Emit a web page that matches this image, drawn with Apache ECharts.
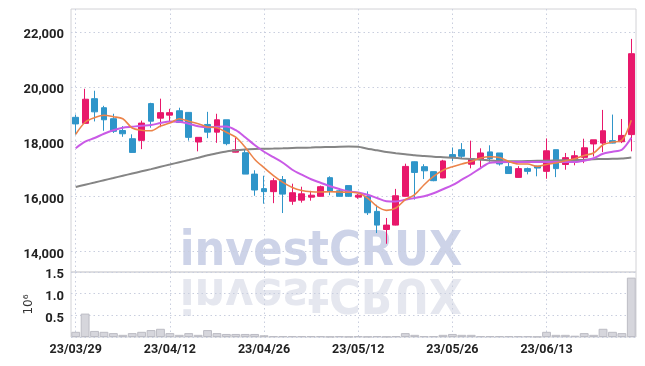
<!DOCTYPE html>
<html>
<head>
<meta charset="utf-8">
<script src="https://cdn.jsdelivr.net/npm/echarts@6/dist/echarts.min.js"></script>
<style>
html,body{margin:0;padding:0;background:#fff;}
#chart{width:645px;height:366px;}
</style>
</head>
<body>
<div id="chart"></div>
<script>
var dates = ['23/03/29','23/03/30','23/03/31','23/04/03','23/04/04','23/04/05','23/04/06','23/04/07','23/04/10','23/04/11',
'23/04/12','23/04/13','23/04/14','23/04/17','23/04/18','23/04/19','23/04/20','23/04/21','23/04/24','23/04/25',
'23/04/26','23/04/27','23/04/28','23/05/02','23/05/03','23/05/04','23/05/08','23/05/09','23/05/10','23/05/11',
'23/05/12','23/05/15','23/05/16','23/05/17','23/05/18','23/05/19','23/05/22','23/05/23','23/05/24','23/05/25',
'23/05/26','23/05/30','23/05/31','23/06/01','23/06/02','23/06/05','23/06/07','23/06/08','23/06/09','23/06/12',
'23/06/13','23/06/14','23/06/15','23/06/16','23/06/19','23/06/20','23/06/21','23/06/22','23/06/23','23/06/26'];

var opens  = [18890,18670,19570,19240,18840,18410,18110,18050,19390,18860,18970,19130,19070,17990,18630,18350,18800,17620,17600,16820,
16290,16180,16620,15830,15870,15980,16010,16690,16210,16400,15980,16010,15460,14800,14960,16010,17270,17090,16910,16680,
17530,17710,17180,17360,17630,17590,17090,16700,17020,17110,16920,17710,17170,17270,17430,17920,17950,18040,18000,18260];
var closes = [18650,19550,19090,18800,18380,18290,17610,18680,18750,19060,19060,18700,18160,18160,18350,18800,17930,17710,16820,16240,
16180,16580,16090,16140,16100,16050,16360,16200,16010,16010,16050,15410,14960,14960,16030,17100,16880,16940,16580,17300,
17430,17470,17380,17590,17390,17190,16840,17020,16920,17040,17670,17020,17420,17490,17780,18070,18400,17950,18230,21210];
var lows   = [18260,18660,18740,18400,18320,18180,17600,17730,18510,18530,18750,18690,18040,17650,18130,17960,17870,17610,16820,16030,
15740,15760,15400,15700,15780,15850,16000,16050,16000,15990,15920,15330,14670,14280,14950,16000,15890,16640,16560,16670,
17290,17410,17030,17070,17270,17130,16830,16690,16810,16740,16650,16710,16980,17140,17220,17460,17620,17940,17950,17650];
var highs  = [18990,19930,19860,19310,19020,18570,18270,18770,19420,19570,19200,19240,19080,18160,19090,19020,18800,18140,17740,16960,
16760,16670,16750,16470,16360,16210,16400,16740,16270,16400,16090,16190,15700,15220,16280,17200,17280,17180,16910,17340,
17790,17950,18040,17760,17870,17590,17240,17110,17060,17120,18120,17710,17590,17670,18110,18070,19160,18990,18830,21750];

var maShort = [18274,18711,18875,18966,18912,18839,18500,18420,18401,18573,18682,18839,18748,18657,18540,18511,18347,18164,17800,17362,
17052,16760,16516,16334,16225,16177,16166,16177,16166,16159,16130,15947,15641,15496,15583,15886,16068,16432,16735,16961,
17089,17187,17282,17406,17453,17428,17282,17187,17187,17100,17173,17224,17308,17380,17501,17588,17891,17989,18048,18784];
var maMid = [17763,18000,18135,18292,18420,18511,18547,18584,18609,18682,18740,18729,18657,18566,18529,18547,18558,18420,18164,17880,
17636,17435,17235,16979,16797,16633,16505,16378,16275,16188,16152,16068,15948,15831,15824,15886,15948,16013,16123,16268,
16414,16615,16815,17041,17235,17253,17257,17257,17257,17257,17257,17257,17257,17257,17308,17399,17563,17636,17709,18146];
var maLong = [16349,16432,16513,16596,16677,16760,16841,16921,17001,17089,17169,17253,17333,17417,17508,17581,17647,17683,17716,17734,
17745,17752,17760,17771,17781,17789,17800,17807,17818,17825,17818,17745,17690,17628,17581,17544,17508,17483,17453,17435,
17417,17391,17370,17344,17319,17297,17290,17290,17297,17308,17308,17319,17326,17333,17344,17362,17370,17380,17391,17428];

var volumes = [0.12,0.54,0.14,0.12,0.09,0.05,0.09,0.12,0.16,0.19,0.09,0.05,0.09,0.05,0.16,0.09,0.07,0.07,0.07,0.07,
0.04,0.02,0.02,0.02,0.02,0.02,0.02,0.01,0.02,0.01,0.02,0.01,0.02,0.01,0.02,0.09,0.05,0.02,0.02,0.05,
0.07,0.05,0.05,0.02,0.02,0.02,0.02,0.02,0.02,0.01,0.12,0.05,0.05,0.03,0.09,0.05,0.19,0.12,0.09,1.37];

var priceTicks = [14000,16000,18000,20000,22000];

var candles = dates.map(function(d,i){ return [opens[i], closes[i], lows[i], highs[i]]; });

var LFONT = 'Roboto, "Liberation Sans", sans-serif';
var WFONT = '"DejaVu Sans Condensed", "DejaVu Sans", sans-serif';
var gridLine = {show:true, lineStyle:{color:'#c9cede', type:[1.5,3], width:1}};

var chart = echarts.init(document.getElementById('chart'), null, {renderer:'canvas'});
chart.setOption({
  animation:false,
  backgroundColor:'#ffffff',
  graphic:[
    {type:'text', z:0, x:321, y:253, style:{text:'investCRUX', font:'bold 48px '+WFONT, fill:'#cdd3e8', align:'center', verticalAlign:'middle'}},
    {type:'text', z:0, x:321, y:291, scaleY:-1, style:{text:'investCRUX', font:'bold 48px '+WFONT, fill:'#e5e7ef', align:'center', verticalAlign:'middle'}}
  ],
  grid:[
    {left:71, right:9, top:9, height:263, show:true, borderColor:'#d2d2d6', borderWidth:1, backgroundColor:'transparent'},
    {left:71, right:9, top:272, height:65, show:true, borderColor:'#d2d2d6', borderWidth:1, backgroundColor:'transparent'}
  ],
  xAxis:[
    {type:'category', gridIndex:0, data:dates, boundaryGap:true,
     axisLine:{show:false}, axisTick:{show:false}, axisLabel:{show:false},
     splitLine:Object.assign({interval:9, alignWithLabel:true}, gridLine)},
    {type:'category', gridIndex:1, data:dates, boundaryGap:true,
     axisLine:{show:false}, axisTick:{show:false},
     axisLabel:{show:true, interval:9, margin:6, fontFamily:LFONT, fontWeight:'bold', fontSize:12.5, color:'#222'},
     splitLine:Object.assign({interval:9, alignWithLabel:true}, gridLine)}
  ],
  yAxis:[
    {type:'value', gridIndex:0, min:13250, max:22840, scale:true,
     axisLine:{show:false}, axisTick:{show:false, customValues:priceTicks},
     axisLabel:{customValues:priceTicks, margin:7, verticalAlign:'top', lineHeight:6, fontFamily:LFONT, fontWeight:'bold', fontSize:13, color:'#222',
       formatter:function(v){ return v.toLocaleString('en-US'); }},
     splitLine:gridLine},
    {type:'value', gridIndex:1, min:0, max:1.5, interval:0.5,
     name:'10⁶', nameLocation:'middle', nameGap:33, nameRotate:90,
     nameTextStyle:{fontFamily:'"DejaVu Sans", sans-serif', fontSize:12, color:'#333'},
     axisLine:{show:false}, axisTick:{show:false},
     axisLabel:{margin:7, verticalAlign:'top', lineHeight:6, fontFamily:LFONT, fontWeight:'bold', fontSize:13, color:'#222',
       formatter:function(v){ return v === 0 ? '' : v.toFixed(1); }},
     splitLine:gridLine}
  ],
  series:[
    {type:'candlestick', xAxisIndex:0, yAxisIndex:0, data:candles, barWidth:'68%', z:3,
     itemStyle:{color:'#e8186b', color0:'#2f95c9', borderColor:'#e8186b', borderColor0:'#2f95c9', borderWidth:1}},
    {type:'line', xAxisIndex:0, yAxisIndex:0, data:maLong, showSymbol:false, smooth:0.2, z:4,
     lineStyle:{color:'#858585', width:2}},
    {type:'line', xAxisIndex:0, yAxisIndex:0, data:maMid, showSymbol:false, smooth:0.3, z:4,
     lineStyle:{color:'#c95ae6', width:2}},
    {type:'line', xAxisIndex:0, yAxisIndex:0, data:maShort, showSymbol:false, smooth:0.3, z:4,
     lineStyle:{color:'#ec8349', width:1.6}},
    {type:'bar', xAxisIndex:1, yAxisIndex:1, data:volumes, barCategoryGap:'6%', z:3,
     itemStyle:{color:'#d6d6dc', borderColor:'#bcbcc4', borderWidth:1}}
  ]
});
</script>
</body>
</html>
